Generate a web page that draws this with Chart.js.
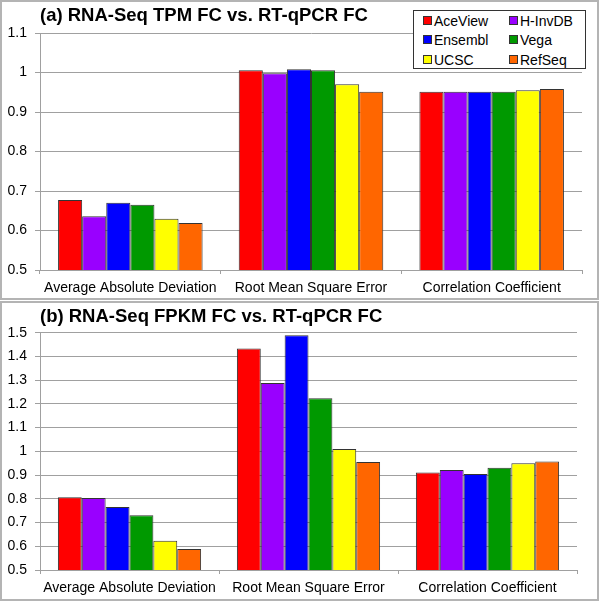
<!DOCTYPE html>
<html>
<head>
<meta charset="utf-8">
<script src="https://cdn.jsdelivr.net/npm/chart.js@4.4.1/dist/chart.umd.min.js"></script>
<style>
  body { margin: 0; background: #fff; font-family: Arial, "Liberation Sans", sans-serif; }
  .wrap { position: relative; width: 600px; height: 602px; }
  .frame { position: absolute; left: 0; width: 599px; height: 300px; box-sizing: border-box; border: 2px solid #b4b4b4; }
  canvas { position: absolute; left: 0; }
  .legend { position: absolute; left: 413px; top: 10px; width: 173px; height: 59px; box-sizing: border-box;
            border: 1px solid #333; background: #fff; }
  .item { position: absolute; font-size: 14px; line-height: 16px; color: #000; white-space: nowrap; }
  .sw { display: inline-block; width: 7px; height: 7px; border: 1px solid #333; margin-right: 2px; vertical-align: 1px; }
</style>
</head>
<body>
<div class="wrap">
  <div class="frame" style="top:0"></div>
  <div class="frame" style="top:301px"></div>
  <canvas id="chartA" width="600" height="300" style="top:0"></canvas>
  <canvas id="chartB" width="600" height="300" style="top:301px"></canvas>
  <div class="legend" id="legend"></div>
</div>
<script>
const categories = ["Average Absolute Deviation", "Root Mean Square Error", "Correlation Coefficient"];
const seriesNames = ["AceView", "H-InvDB", "Ensembl", "Vega", "UCSC", "RefSeq"];
const seriesColors = ["#ff0000", "#9900ff", "#0000ff", "#009900", "#ffff00", "#ff6600"];

// (a) TPM fold change, one row per annotation
const tpmAceView = [0.677, 1.006, 0.951];
const tpmHInvDB = [0.636, 0.998, 0.951];
const tpmEnsembl = [0.670, 1.008, 0.951];
const tpmVega = [0.665, 1.006, 0.951];
const tpmUCSC = [0.630, 0.970, 0.955];
const tpmRefSeq = [0.619, 0.951, 0.958];

// (b) FPKM fold change
const fpkmAceView = [0.807, 1.433, 0.911];
const fpkmHInvDB = [0.803, 1.288, 0.921];
const fpkmEnsembl = [0.765, 1.489, 0.905];
const fpkmVega = [0.731, 1.224, 0.931];
const fpkmUCSC = [0.623, 1.010, 0.950];
const fpkmRefSeq = [0.588, 0.955, 0.957];

const yTicksA = [0.5, 0.6, 0.7, 0.8, 0.9, 1, 1.1];
const yTicksB = [0.5, 0.6, 0.7, 0.8, 0.9, 1, 1.1, 1.2, 1.3, 1.4, 1.5];

const titleA = "(a) RNA-Seq TPM FC vs. RT-qPCR FC";
const titleB = "(b) RNA-Seq FPKM FC vs. RT-qPCR FC";

const fontFam = "Arial, 'Liberation Sans', sans-serif";
const gridColor = "#a0a0a0";

function makeDatasets(rows) {
  return rows.map((vals, i) => ({
    label: seriesNames[i],
    data: vals,
    backgroundColor: seriesColors[i],
    borderColor: "#333333",
    borderWidth: 1,
    categoryPercentage: 0.8,
    barPercentage: 1.0
  }));
}

function makeChart(canvas, rows, title, ticks, pad) {
  return new Chart(canvas, {
    type: "bar",
    data: { labels: categories, datasets: makeDatasets(rows) },
    options: {
      responsive: false,
      animation: false,
      layout: { padding: { left: 0, right: pad.right, top: 0, bottom: 0 } },
      plugins: {
        legend: { display: false },
        tooltip: { enabled: false },
        title: {
          display: true,
          text: title,
          align: "start",
          fullSize: false,
          color: "#000",
          font: { family: fontFam, size: 18.5, weight: "bold" },
          padding: { top: pad.titleTop, bottom: pad.titleBottom }
        }
      },
      scales: {
        x: {
          grid: { drawOnChartArea: false, drawTicks: true, tickLength: 4, color: gridColor, offset: true },
          border: { color: gridColor },
          ticks: { color: "#000", font: { family: fontFam, size: 14 }, padding: 6, maxRotation: 0 },
          afterFit: (s) => { s.height = pad.xHeight; }
        },
        y: {
          min: ticks[0],
          max: ticks[ticks.length - 1],
          afterBuildTicks: (s) => { s.ticks = ticks.map(v => ({ value: v })); },
          grid: { color: gridColor, drawTicks: true, tickLength: 5 },
          border: { color: gridColor },
          ticks: { color: "#000", font: { family: fontFam, size: 14 }, padding: 8,
                   callback: (v) => String(Math.round(v * 10) / 10) },
          afterFit: (s) => { s.width = 40; }
        }
      }
    }
  });
}

makeChart(document.getElementById("chartA"),
  [tpmAceView, tpmHInvDB, tpmEnsembl, tpmVega, tpmUCSC, tpmRefSeq],
  titleA, yTicksA, { right: 18, titleTop: 5, titleBottom: 5.8, xHeight: 30 });

makeChart(document.getElementById("chartB"),
  [fpkmAceView, fpkmHInvDB, fpkmEnsembl, fpkmVega, fpkmUCSC, fpkmRefSeq],
  titleB, yTicksB, { right: 23, titleTop: 5, titleBottom: 4.5, xHeight: 31 });

// legend box (panel a only): 2 columns x 3 rows
const legend = document.getElementById("legend");
seriesNames.forEach((name, i) => {
  const col = i % 2, row = Math.floor(i / 2);
  const item = document.createElement("div");
  item.className = "item";
  item.style.left = (col === 0 ? 9 : 95) + "px";
  item.style.top = (2 + row * 19.3) + "px";
  const sw = document.createElement("span");
  sw.className = "sw";
  sw.style.background = seriesColors[i];
  item.appendChild(sw);
  item.appendChild(document.createTextNode(name));
  legend.appendChild(item);
});
</script>
</body>
</html>
